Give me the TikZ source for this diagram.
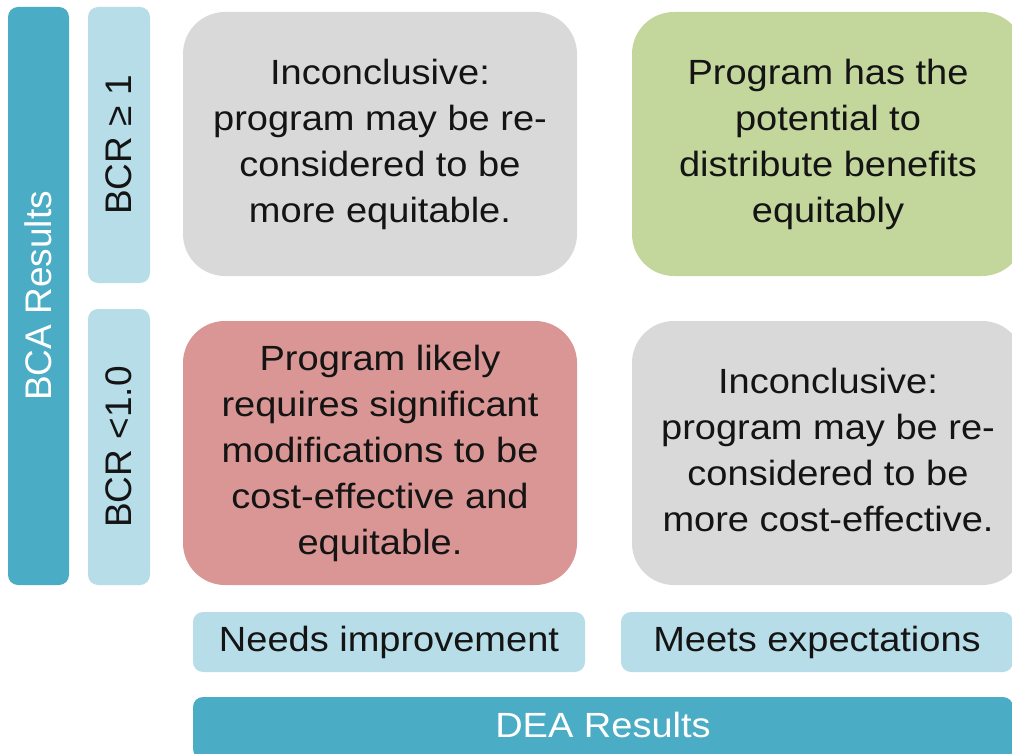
\documentclass[tikz,border=0pt]{standalone}
\usepackage{fontspec}
\setmainfont{Liberation Sans}
\usepackage{graphicx}
\definecolor{bcadark}{HTML}{4BACC6}
\definecolor{bcalight}{HTML}{B7DDE8}
\definecolor{boxgray}{HTML}{D9D9D9}
\definecolor{boxgreen}{HTML}{C3D69B}
\definecolor{boxred}{HTML}{D99694}
\definecolor{txt}{HTML}{141414}
\newcommand\hstext[1]{\scalebox{1.086}[1]{\begin{tabular}{@{}c@{}}#1\end{tabular}}}
\tikzset{
  base/.style={rectangle, inner sep=0pt, outer sep=0pt, align=center},
  bigbox/.style={base, rounded corners=42pt, minimum width=#1, minimum height=264pt,
     text=txt, font=\fontsize{35}{46}\selectfont},
  sidebar/.style={base, rounded corners=10pt, minimum width=61pt, fill=bcadark,
     text=white, font=\fontsize{37}{44}\selectfont},
  subbar/.style={base, rounded corners=10pt, minimum width=62pt, minimum height=276pt, fill=bcalight,
     text=txt, font=\fontsize{37}{44}\selectfont},
  labbox/.style={base, rounded corners=10pt, minimum width=392pt, minimum height=60pt, fill=bcalight,
     text=txt, font=\fontsize{35}{46}\selectfont},
  deabox/.style={base, rounded corners=10pt, minimum width=820pt, minimum height=62pt, fill=bcadark,
     text=white, font=\fontsize{35}{46}\selectfont}
}
\begin{document}
\begin{tikzpicture}[x=1pt,y=1pt]
\useasboundingbox (0,0) rectangle (1012,-754);
\clip (0,0) rectangle (1012,-754);
\fill[white] (0,0) rectangle (1012,-754);
% left bars
\node[sidebar, minimum height=578pt] (bca) at (38.5,-296) {\rotatebox{90}{BCA Results}};
\node[subbar] (bcrhi) at (119,-145) {\rotatebox{90}{BCR ≥ 1}};
\node[subbar] (bcrlo) at (119,-447) {\rotatebox{90}{BCR <1.0}};
% quadrant boxes
\node[bigbox=394pt, fill=boxgray] (tl) at (380,-144)
  {\hstext{Inconclusive:\\program may be re-\\considered to be\\more equitable.}};
\node[bigbox=392pt, fill=boxgreen] (tr) at (828,-144)
  {\hstext{Program has the\\potential to\\distribute benefits\\equitably}};
\node[bigbox=394pt, fill=boxred] (bl) at (380,-453)
  {\hstext{Program likely\\requires significant\\modifications to be\\cost-effective and\\equitable.}};
\node[bigbox=392pt, fill=boxgray] (br) at (828,-453)
  {\hstext{Inconclusive:\\program may be re-\\considered to be\\more cost-effective.}};
% bottom labels
\node[labbox] (needs) at (389,-642) {\hstext{Needs improvement}};
\node[labbox] (meets) at (817,-642) {\hstext{Meets expectations}};
\node[deabox] (dea) at (603,-728) {\hstext{DEA Results}};
\end{tikzpicture}
\end{document}
